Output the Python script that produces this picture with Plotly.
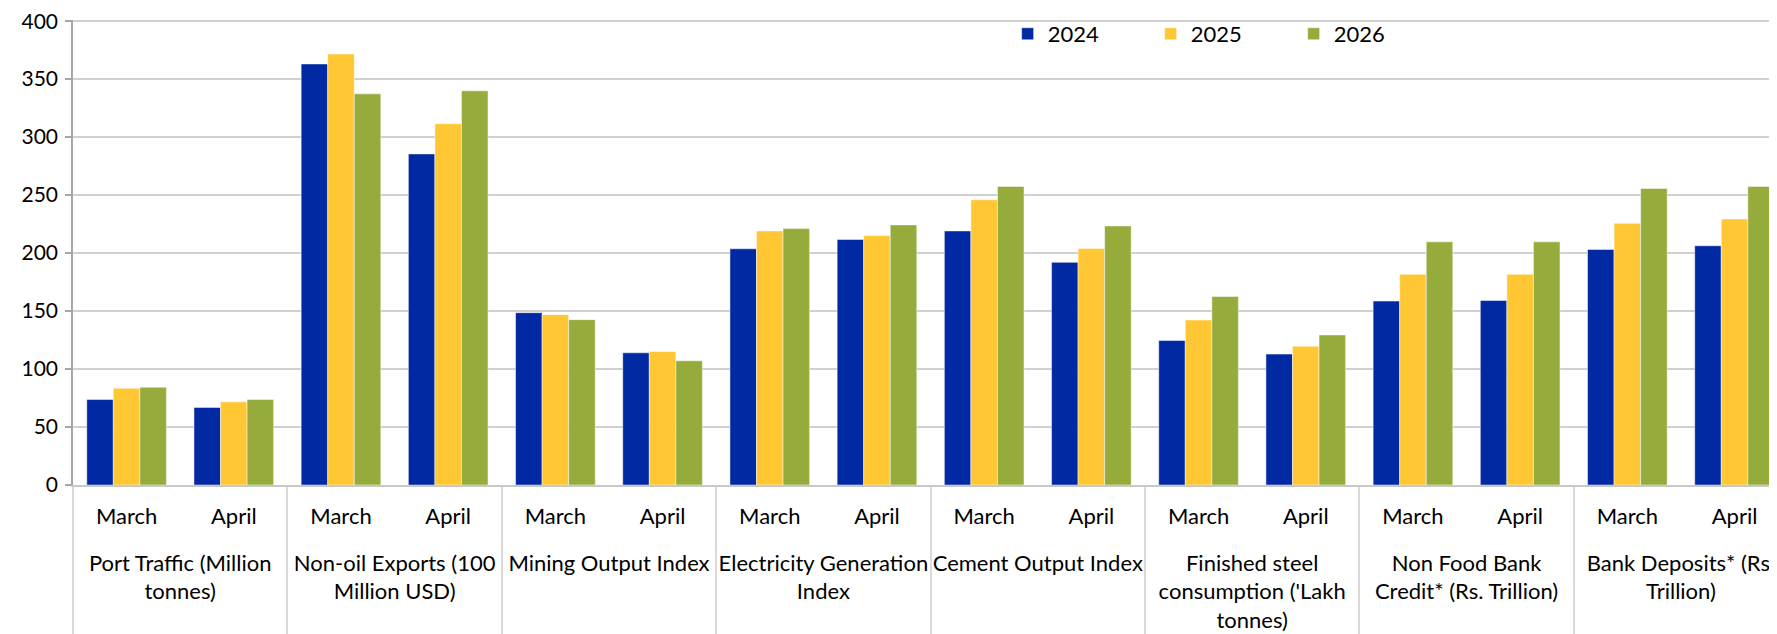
import plotly.graph_objects as go

groups = [
    "Port Traffic (Million<br>tonnes)",
    "Non-oil Exports (100<br>Million USD)",
    "Mining Output Index",
    "Electricity Generation<br>Index",
    "Cement Output Index",
    "Finished steel<br>consumption ('Lakh<br>tonnes)",
    "Non Food Bank<br>Credit* (Rs. Trillion)",
    "Bank Deposits* (Rs.<br>Trillion)",
]
months = ["March", "April"]

years = ["2024", "2025", "2026"]
v2024 = [73.7, 66.9, 363.1, 285.5, 148.6, 114.0, 203.7, 211.7, 219.1, 192.0, 124.6, 112.9, 158.6, 159.1, 203.1, 206.3]
v2025 = [83.4, 71.7, 371.6, 311.6, 146.9, 115.1, 219.1, 215.1, 246.0, 204.0, 142.3, 119.7, 181.7, 181.7, 225.7, 229.4]
v2026 = [84.3, 73.7, 337.3, 339.9, 142.6, 107.1, 221.1, 224.3, 257.4, 223.4, 162.6, 129.4, 209.7, 209.7, 255.7, 257.4]

colors = ["#0029A3", "#FFC733", "#95AC3C"]

# leading line break pushes the outer category level further below the month labels
x_outer = ["<br>" + g for g in groups for _ in months]
x_inner = [m for _ in groups for m in months]

FONT = "Lato"
fig = go.Figure()
for name, vals, col in zip(years, [v2024, v2025, v2026], colors):
    fig.add_trace(go.Bar(
        x=[x_outer, x_inner], y=vals, name=name,
        marker=dict(color=col, line=dict(color="rgba(255,255,255,0.6)", width=0.8)),
    ))

fig.update_layout(
    width=1769, height=626,
    margin=dict(l=65, r=0, t=12, b=149, autoexpand=False),
    paper_bgcolor="white", plot_bgcolor="white",
    barmode="group", bargap=0.257, bargroupgap=0,
    font=dict(family=FONT, size=22, color="black"),
    legend=dict(
        orientation="h", x=0.5485, y=0.97, xanchor="left", yanchor="middle",
        entrywidth=98, entrywidthmode="pixels",
        font=dict(size=22), bgcolor="rgba(0,0,0,0)",
    ),
    xaxis=dict(
        type="multicategory", range=[-0.5, 15.396], automargin=False,
        showline=True, linecolor="#c8c8c8", linewidth=1.5,
        showgrid=False, ticks="", ticklabelstandoff=11,
        showdividers=True, dividercolor="#d9d9d9", dividerwidth=1.5,
        tickfont=dict(family=FONT, size=22, color="black"),
    ),
    yaxis=dict(
        range=[0, 401], tickvals=[0, 50, 100, 150, 200, 250, 300, 350, 400],
        showgrid=True, gridcolor="#d0d0d0", gridwidth=1.5,
        showline=True, linecolor="#a6a6a6", linewidth=1.5, automargin=False,
        ticks="outside", ticklen=6, tickcolor="#a6a6a6", tickwidth=1.5,
        zeroline=False, ticklabelstandoff=3, ticklabeloverflow="allow",
        tickfont=dict(family=FONT, size=21, color="black"),
    ),
)

fig.write_html("out.html")
